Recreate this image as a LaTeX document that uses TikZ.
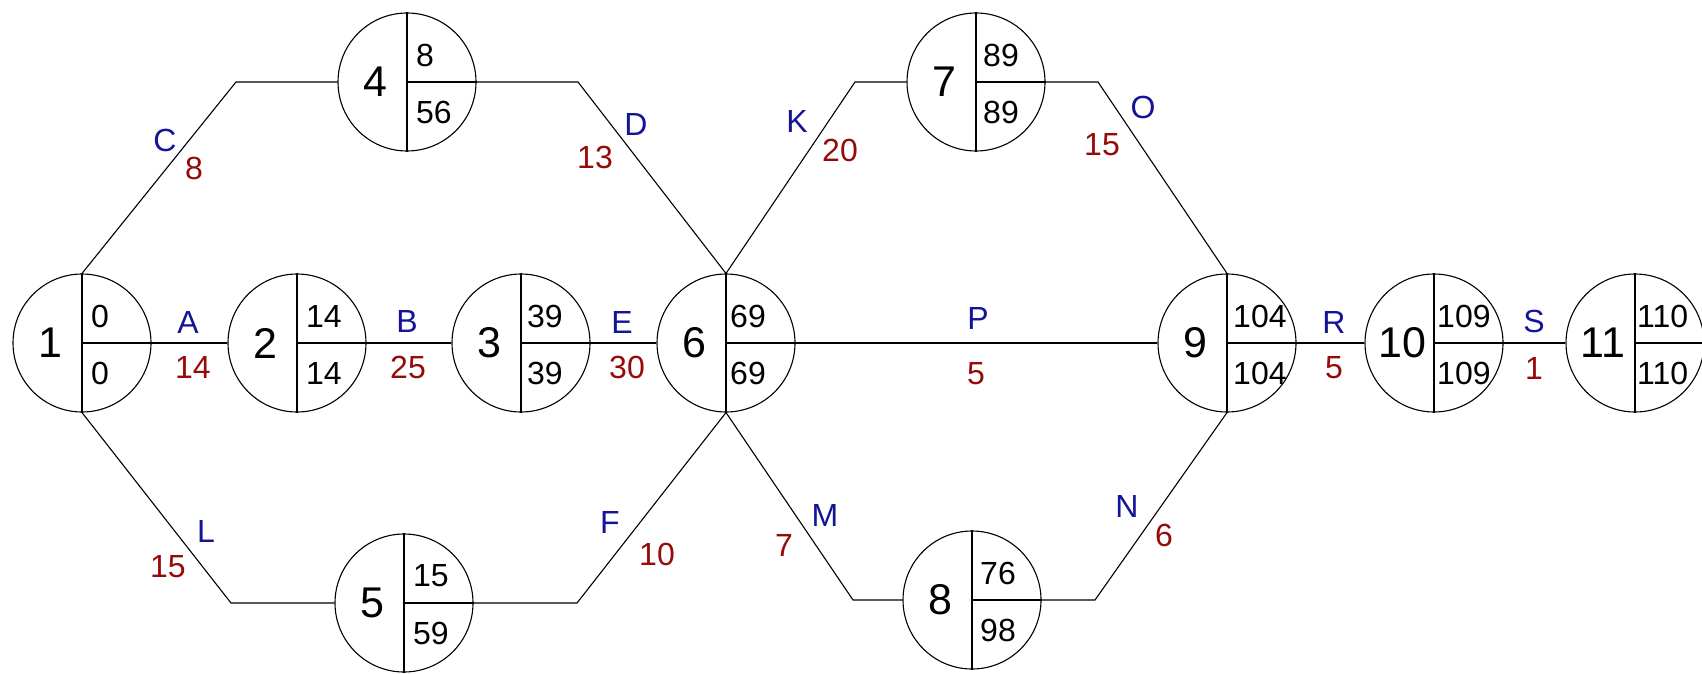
\documentclass[tikz,border=0pt]{standalone}
\usepackage{fontspec}
\setmainfont{Liberation Sans}
\definecolor{lblue}{RGB}{20,20,150}
\definecolor{lred}{RGB}{150,10,10}
\newcommand\evnode[7]{%
  \node[ev] (#1) at (#2,#3) {};
  \draw[conn] (#1.north) -- (#1.south) (#1.center) -- (#1.east);
  \node[big] (#1l) at ([xshift=-32pt]#1.center) {#4};
  \node[num] (#1t) at ([xshift=#7,yshift=27pt]#1.center) {#5};
  \node[num] (#1b) at ([xshift=#7,yshift=-30pt]#1.center) {#6};
}
\begin{document}
\begin{tikzpicture}[x=1pt,y=-1pt,
  ev/.style={circle, draw, line width=1.1pt, minimum size=138pt, inner sep=0pt},
  big/.style={font=\fontsize{43}{48}\selectfont, inner sep=0pt},
  num/.style={font=\fontsize{32}{36}\selectfont, inner sep=0pt, anchor=west},
  act/.style={font=\fontsize{32}{36}\selectfont, text=lblue, inner sep=0pt},
  dur/.style={font=\fontsize{32}{36}\selectfont, text=lred, inner sep=0pt},
  conn/.style={line width=1.1pt}]
\useasboundingbox (0,0) rectangle (1702,674);

\evnode{n1}{82}{343}{1}{0}{0}{9pt}
\evnode{n2}{297}{343}{2}{14}{14}{9pt}
\evnode{n3}{521}{343}{3}{39}{39}{6pt}
\evnode{n4}{407}{82}{4}{8}{56}{9pt}
\evnode{n5}{404}{603}{5}{15}{59}{9pt}
\evnode{n6}{726}{343}{6}{69}{69}{4pt}
\evnode{n7}{976}{82}{7}{89}{89}{7pt}
\evnode{n8}{972}{600}{8}{76}{98}{8pt}
\evnode{n9}{1227}{343}{9}{104}{104}{6pt}
\evnode{n10}{1434}{343}{10}{109}{109}{3pt}
\evnode{n11}{1635}{343}{11}{110}{110}{2pt}

\coordinate (c14) at (236,82);
\coordinate (c46) at (578,82);
\coordinate (c15) at (231,603);
\coordinate (c56) at (577,603);
\coordinate (c67) at (855,82);
\coordinate (c79) at (1098,82);
\coordinate (c68) at (853,600);
\coordinate (c89) at (1095,600);

\draw[conn] (n1.east) -- (n2.west);
\draw[conn] (n2.east) -- (n3.west);
\draw[conn] (n3.east) -- (n6.west);
\draw[conn] (n6.east) -- (n9.west);
\draw[conn] (n9.east) -- (n10.west);
\draw[conn] (n10.east) -- (n11.west);
\draw[conn] (n1.north) -- (c14) -- (n4.west);
\draw[conn] (n4.east) -- (c46) -- (n6.north);
\draw[conn] (n1.south) -- (c15) -- (n5.west);
\draw[conn] (n5.east) -- (c56) -- (n6.south);
\draw[conn] (n6.north) -- (c67) -- (n7.west);
\draw[conn] (n7.east) -- (c79) -- (n9.north);
\draw[conn] (n6.south) -- (c68) -- (n8.west);
\draw[conn] (n8.east) -- (c89) -- (n9.south);

\node[act] (lA) at (188,322) {A};
\node[dur] (dA) at (193,367) {14};
\node[act] (lB) at (407,321) {B};
\node[dur] (dB) at (408,367) {25};
\node[act] (lE) at (622,322) {E};
\node[dur] (dE) at (627,367) {30};
\node[act] (lP) at (978,318) {P};
\node[dur] (dP) at (976,374) {5};
\node[act] (lR) at (1334,322) {R};
\node[dur] (dR) at (1334,368) {5};
\node[act] (lS) at (1534,321) {S};
\node[dur] (dS) at (1534,368) {1};
\node[act] (lC) at (165,140) {C};
\node[dur] (dC) at (194,168) {8};
\node[act] (lD) at (636,124) {D};
\node[dur] (dD) at (595,157) {13};
\node[act] (lK) at (797,121) {K};
\node[dur] (dK) at (840,150) {20};
\node[act] (lO) at (1143,107) {O};
\node[dur] (dO) at (1102,145) {15};
\node[act] (lL) at (206,531) {L};
\node[dur] (dL) at (168,567) {15};
\node[act] (lF) at (610,522) {F};
\node[dur] (dF) at (657,554) {10};
\node[act] (lM) at (825,515) {M};
\node[dur] (dM) at (784,545) {7};
\node[act] (lN) at (1127,506) {N};
\node[dur] (dN) at (1164,535) {6};
\end{tikzpicture}
\end{document}
